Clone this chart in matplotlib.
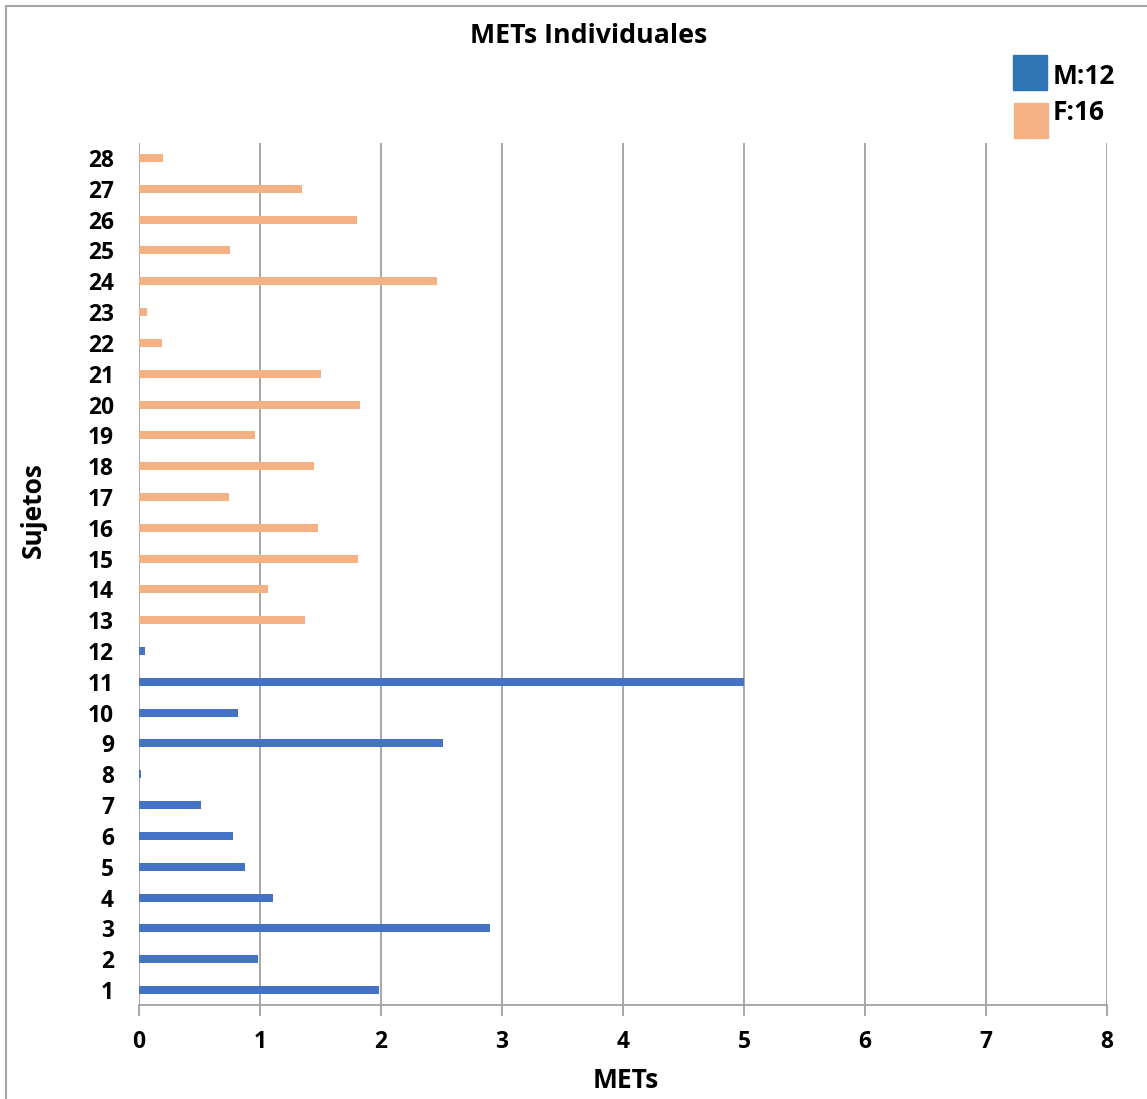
import matplotlib
matplotlib.use("Agg")
import matplotlib.pyplot as plt
from matplotlib.patches import Rectangle

# Subject numbers and METs per subject
subjects_m = list(range(1, 13))
mets_m = [1.98, 0.98, 2.90, 1.11, 0.88, 0.78, 0.51, 0.02, 2.51, 0.82, 5.00, 0.05]
subjects_f = list(range(13, 29))
mets_f = [1.37, 1.07, 1.81, 1.48, 0.74, 1.45, 0.96, 1.83, 1.50, 0.19, 0.07,
          2.46, 0.75, 1.80, 1.35, 0.20]
x_ticks = [0, 1, 2, 3, 4, 5, 6, 7, 8]
legend_labels = ["M:12", "F:16"]

plt.rcParams['font.family'] = ['Open Sans', 'DejaVu Sans']
plt.rcParams['font.weight'] = 'bold'

W, H = 1147, 1099
fig = plt.figure(figsize=(W / 100, H / 100), dpi=100)

# outer chart frame
fig.patches.append(Rectangle((6 / W, -0.01), 1.02, 1 - 6 / H + 0.01,
                             transform=fig.transFigure, fill=False,
                             edgecolor='#A6A6A6', linewidth=1.5))

left, right, top, bottom = 139, 1107, 142.6, 1005.4
ax = fig.add_axes([left / W, 1 - bottom / H, (right - left) / W, (bottom - top) / H])

bar_h = 0.26
ax.barh(subjects_m, mets_m, height=bar_h, color='#4472C4', zorder=3)
ax.barh(subjects_f, mets_f, height=bar_h, color='#F4B183', zorder=3)

ax.set_xlim(0, 8)
ax.set_ylim(0.5, 28.5)
ax.set_xticks(x_ticks)
ax.set_yticks(range(1, 29))
ax.grid(axis='x', color='#A0A0A0', linewidth=1.3, zorder=0)
for s in ['top', 'right', 'left']:
    ax.spines[s].set_visible(False)
ax.spines['bottom'].set_color('#A0A0A0')
ax.spines['bottom'].set_linewidth(1.3)
ax.tick_params(axis='x', length=8, width=1.3, color='#A0A0A0', pad=10,
               labelsize=16.4)
ax.tick_params(axis='y', length=0, pad=18, labelsize=16.4)
for lab in ax.get_xticklabels() + ax.get_yticklabels():
    lab.set_fontweight('bold')

fig.text(589 / W, 1 - 36 / H, "METs Individuales", ha='center', va='center',
         fontsize=19.3, fontweight='bold')
fig.text(626 / W, 1 - 1080 / H, "METs", ha='center', va='center',
         fontsize=19, fontweight='bold')
fig.text(33 / W, 1 - 510 / H, "Sujetos", ha='center', va='center',
         rotation=90, fontsize=19, fontweight='bold')

# legend swatches and labels
leg_colors = ['#2E75B6', '#F4B183']
leg_boxes = [(1013, 55, 34, 35), (1014, 103, 34, 35)]
leg_text_y = [77, 113]
for (x0, y0, w, h), c, lab, ty in zip(leg_boxes, leg_colors, legend_labels, leg_text_y):
    fig.patches.append(Rectangle((x0 / W, 1 - (y0 + h) / H), w / W, h / H,
                                 transform=fig.transFigure, color=c))
    fig.text(1053 / W, 1 - ty / H, lab, ha='left', va='center',
             fontsize=19, fontweight='bold')

fig.savefig("out.png", dpi=100)
